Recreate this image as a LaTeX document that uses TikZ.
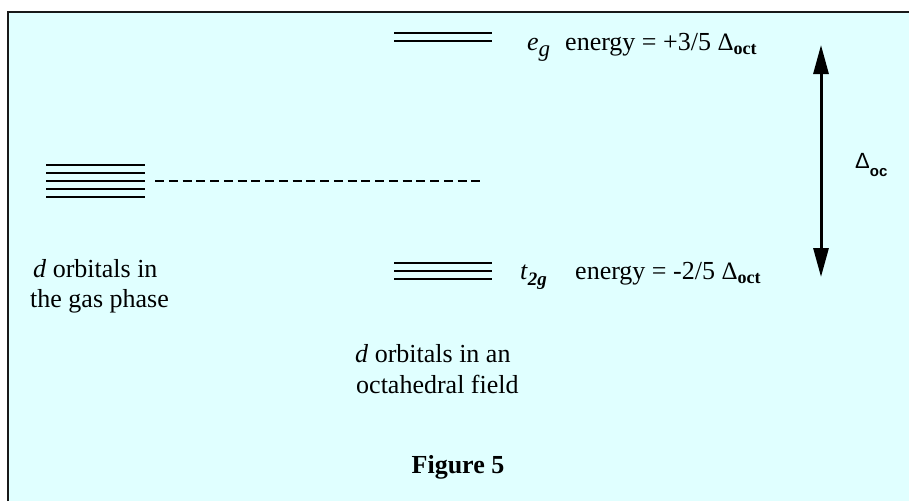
\documentclass[tikz,border=0pt]{standalone}
\usepackage{fontspec}
\setmainfont{Liberation Serif}
\newfontfamily\arialfont{Liberation Sans}
\usetikzlibrary{arrows.meta}
\definecolor{bgcyan}{RGB}{224,255,255}
\tikzset{
  lvl/.style={line width=2pt, black},
  txt/.style={inner sep=0pt, anchor=base west, font=\fontsize{26}{30}\selectfont},
  gap/.style={line width=2pt, dash pattern=on 9pt off 4.75pt},
  split/.style={line width=3pt, {Triangle[width=15pt,length=29pt]}-{Triangle[width=15pt,length=29pt]}},
}
\newcommand{\bigdelta}{{\fontsize{25}{28}\selectfont Δ}}
\newcommand{\dsub}[1]{\raisebox{-4pt}{\fontsize{18}{20}\selectfont\bfseries #1}}
\begin{document}
\begin{tikzpicture}[x=1pt,y=-1pt]
\useasboundingbox (0,0) rectangle (909,501);
\fill[white] (0,0) rectangle (909,501);
\fill[bgcyan] (8,12) rectangle (909,501);
\draw[line width=2.5pt, black!90] (8,501) -- (8,12) -- (909,12);
% gas-phase d levels
\foreach \yy in {165,173,181,189,197} \draw[lvl] (46,\yy) -- (145,\yy);
\coordinate (ds) at (155,181);
\coordinate (de) at (485,181);
\draw[gap] (ds) -- (de);
% e_g levels
\foreach \yy in {33,41} \draw[lvl] (394,\yy) -- (492,\yy);
% t2g levels
\foreach \yy in {263,271,279} \draw[lvl] (394,\yy) -- (492,\yy);
% labels
\node[txt] (eg) at (527,50) {\textit{e}\raisebox{-6pt}{\fontsize{23}{24}\selectfont\itshape g}};
\node[txt] (egE) at (565,50) {energy = +3/5 \bigdelta\dsub{oct}};
\node[txt] (tg) at (520,279) {\textit{t}\raisebox{-6pt}{\fontsize{19}{22}\selectfont\bfseries\itshape 2g}};
\node[txt] (tgE) at (575,279) {energy = -2/5 \bigdelta\dsub{oct}};
\node[txt] (gas1) at (33,277) {\textit{d} orbitals in};
\node[txt] (gas2) at (30,307) {the gas phase};
\node[txt] (oct1) at (355,362) {\textit{d} orbitals in an};
\node[txt] (oct2) at (356,393) {octahedral field};
\node[txt, anchor=base, font=\fontsize{26}{30}\selectfont\bfseries] (fig) at (458,473) {Figure 5};
\node[inner sep=0pt, anchor=base west] (doc) at (855,168) {\arialfont\fontsize{22}{24}\selectfont Δ\raisebox{-8pt}{\fontsize{15}{17}\selectfont\bfseries oc}};
% splitting arrow
\coordinate (atop) at (821,45);
\coordinate (abot) at (821,277);
\draw[split] (atop) -- (abot);
\end{tikzpicture}
\end{document}
